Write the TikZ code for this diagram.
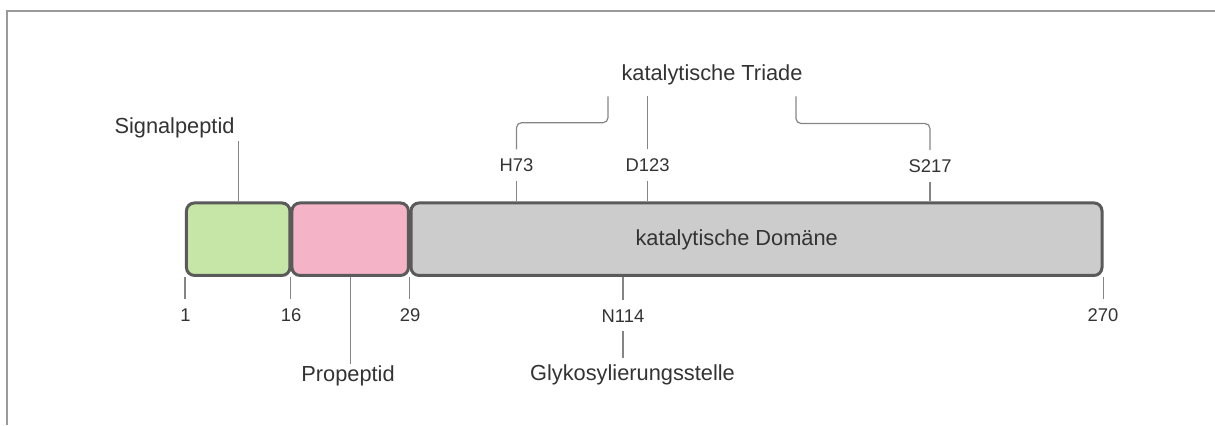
\documentclass[tikz,border=0pt]{standalone}
\usepackage{fontspec}
\setmainfont{Liberation Sans}
\definecolor{txtgray}{HTML}{333333}
\definecolor{boxgray}{HTML}{5A5A5A}
\definecolor{linegray}{HTML}{858585}
\definecolor{framegray}{HTML}{9A9A9A}
\definecolor{sigfill}{HTML}{C5E6A7}
\definecolor{profill}{HTML}{F4B3C6}
\definecolor{domfill}{HTML}{CCCCCC}
\tikzset{
  dombox/.style={draw=boxgray, line width=1.5pt, rounded corners=4pt,
    minimum height=36.25pt, inner sep=0pt},
  conn/.style={draw=linegray, line width=0.6pt},
  bigtext/.style={text=txtgray, font=\fontsize{10.9}{13}\selectfont, anchor=base},
  numtext/.style={text=txtgray, font=\fontsize{9.2}{11}\selectfont, anchor=base, inner sep=4.5pt},
}
\begin{document}
\begin{tikzpicture}[x=0.5pt, y=-0.5pt]
    \useasboundingbox (0,0) rectangle (1215,425);
    % frame
    \draw[framegray, line width=1pt] (7,425) |- (1215,11);
    % domains
    \node (sig) at ( 238.2, 239.2) [dombox, fill=sigfill, minimum width=51.75pt] {};
    \node (pro) at ( 350.2, 239.2) [dombox, fill=profill, minimum width=58.25pt] {};
    \node (dom) at ( 756.5, 239.2) [dombox, fill=domfill, minimum width=345.5pt] {};
    \node (domtxt) at ( 736.7, 245.7) [bigtext] {katalytische Domäne};
    % region labels
    \node (sigtxt) at ( 174.5, 133.0) [bigtext, inner sep=1.7pt] {Signalpeptid};
    \node (protxt) at ( 348.0, 381.7) [bigtext, inner sep=1pt] {Propeptid};
    \node (glyko) at ( 632.5, 380.7) [bigtext, inner sep=3.3pt] {Glykosylierungsstelle};
    \node (triade) at ( 712.0, 80.0) [bigtext, inner sep=5.7pt] {katalytische Triade};
    \draw[conn] (sig.north) -- (sig.north |- sigtxt.south);
    \draw[conn] (pro.south) -- (pro.south |- protxt.north);
    % sequence positions
    \node (n1) at ( 185.5, 321.0) [numtext] {1};
    \node (n16) at ( 291.0, 321.0) [numtext] {16};
    \node (n29) at ( 410.0, 321.0) [numtext] {29};
    \node (n270) at (1103.0, 321.0) [numtext] {270};
    \draw[conn] (sig.south west) -- (sig.south west |- n1.north);
    \draw[conn] (pro.south west) -- (pro.south west |- n16.north);
    \draw[conn] (dom.south west) -- (dom.south west |- n29.north);
    \draw[conn] (dom.south east) -- (dom.south east |- n270.north);
    % glycosylation site
    \node (n114) at ( 623.0, 322.0) [numtext] {N114};
    \draw[conn] (n114.north) -- (n114.north |- dom.south);
    \draw[conn] (n114.south) -- (n114.south |- glyko.north);
    % catalytic triad
    \node (h73) at ( 516.5, 171.7) [numtext] {H73};
    \node (d123) at ( 647.5, 171.7) [numtext] {D123};
    \node (s217) at ( 930.0, 172.2) [numtext] {S217};
    \draw[conn] (h73.south) -- (h73.south |- dom.north);
    \draw[conn] (d123.south) -- (d123.south |- dom.north);
    \draw[conn] (s217.south) -- (s217.south |- dom.north);
    \coordinate (tl) at ( 608.0, 122.7);
    \coordinate (tr) at ( 796.0, 123.5);
    \draw[conn, rounded corners=2.5pt] (h73.north) |- (tl) -- (tl |- triade.south);
    \draw[conn] (d123.north) -- (d123.north |- triade.south);
    \draw[conn, rounded corners=2.5pt] (s217.north) |- (tr) -- (tr |- triade.south);
\end{tikzpicture}
\end{document}
